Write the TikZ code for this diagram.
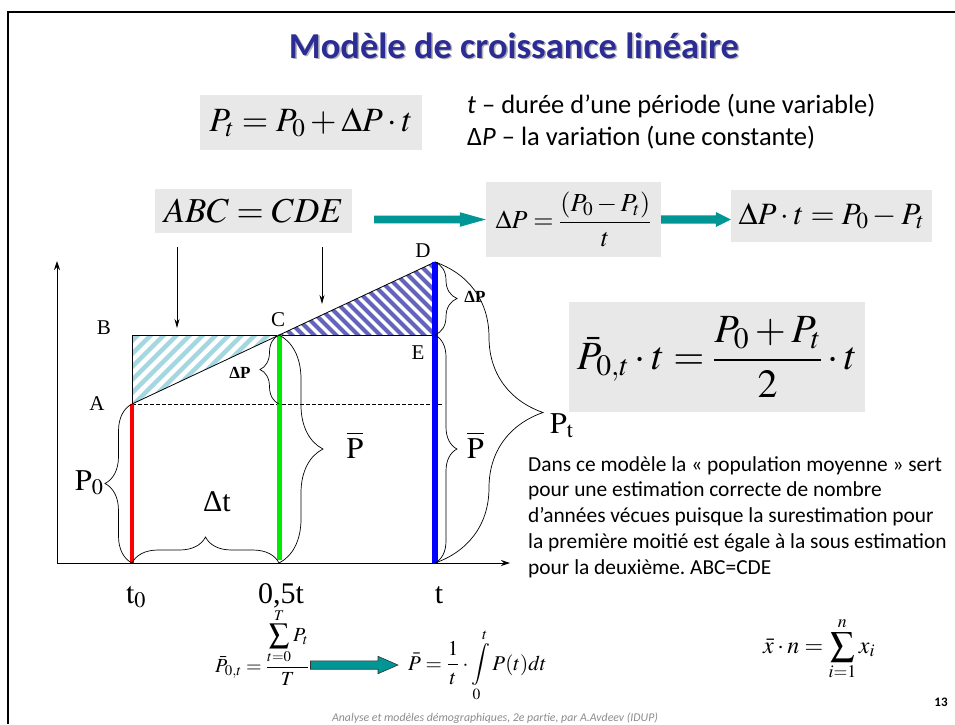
\documentclass[tikz,border=0pt]{standalone}
\usepackage{mathptmx}
\usepackage{fontspec}
\setmainfont{Liberation Serif}
\newfontfamily\calib{Carlito}
\usetikzlibrary{arrows.meta,decorations.pathreplacing,calc}
\definecolor{titleblue}{RGB}{44,44,150}
\definecolor{boxgray}{RGB}{232,232,232}
\definecolor{tealarr}{RGB}{0,150,150}
\definecolor{hatchlight}{RGB}{165,215,225}
\definecolor{hatchdark}{RGB}{100,100,190}
\definecolor{pgreen}{RGB}{0,235,0}
\newcommand\fsz[1]{\fontsize{#1}{#1}\selectfont}
% fat horizontal arrow: style, start, end, half shaft, half head, head length
\newcommand\fatarrow[6]{%
  \path[#1] ($(#2)+(0,-#4)$) -- ($(#3)+(-#6,-#4)$) -- ($(#3)+(-#6,-#5)$) -- (#3)
    -- ($(#3)+(-#6,#5)$) -- ($(#3)+(-#6,#4)$) -- ($(#2)+(0,#4)$) -- cycle;}
\frenchspacing
\begin{document}
\begin{tikzpicture}[x=1pt,y=-1pt,
  every node/.style={inner sep=0pt},
  fbox/.style={fill=boxgray, inner sep=0pt},
  ptlbl/.style={font=\fsz{21}},
  biglbl/.style={font=\fsz{30}},
  dplbl/.style={font=\fsz{17}\bfseries},
  brc/.style={decorate, decoration={brace, amplitude=#1}, line width=0.7pt, draw=black},
  outline/.style={line width=0.8pt, black},
  pinarrow/.style={line width=0.8pt, -{Stealth[length=9pt,width=5pt]}},
  axisarrow/.style={line width=0.9pt, -{Stealth[length=9pt,width=6pt]}},
  hatchA/.style={draw=hatchlight, line width=4.5pt},
  hatchB/.style={draw=hatchdark, line width=4pt},
]
\useasboundingbox[fill=white] (0,0) rectangle (955,724);

% slide frame
\draw[line width=2pt] (8,724) -- (8,12) -- (955,12);

% title
\node[anchor=base, font=\calib\bfseries\fsz{36.5}, text=black!30] (titleshadow) at (515.5,59.5) {Modèle de croissance linéaire};
\node[anchor=base, font=\calib\bfseries\fsz{36.5}, text=titleblue] (title) at (514,58) {Modèle de croissance linéaire};

% first formula and definitions
\node[fbox, minimum width=222pt, minimum height=55pt, font=\fsz{34}] (f1) at (311,122.5) {$P_t = P_0 + \Delta P\cdot t$};
\node[anchor=base west, font=\calib\fsz{26.5}] (def1) at (467,113) {\textit{t} – durée d’une période (une variable)};
\node[anchor=base west, font=\calib\fsz{26.5}] (def2) at (467,145) {Δ\textit{P} – la variation (une constante)};

% row of boxes
\node[fbox, minimum width=197pt, minimum height=44pt, font=\fsz{35}] (abc) at (253.5,211) {$ABC = CDE$};
\node[fbox, minimum width=175pt, minimum height=75pt, font=\fsz{26}] (dp) at (573.5,219.5) {$\displaystyle \Delta P = \frac{(P_0 - P_t)}{t}$};
\node[fbox, minimum width=201pt, minimum height=52pt, font=\fsz{31}] (dpt) at (831.5,216) {$\Delta P\cdot t = P_0 - P_t$};

\coordinate (a1s) at ([xshift=22pt]abc.east |- dp.west);
\fatarrow{fill=tealarr}{a1s}{dp.west}{3.8}{7.3}{26}
\coordinate (a2s) at (dp.east);
\coordinate (a2e) at (dpt.west |- a2s);
\fatarrow{fill=tealarr}{a2s}{a2e}{4.2}{7.5}{15}

% mean formula box
\node[fbox, minimum width=296pt, minimum height=110pt, font=\fsz{40}] (pbar) at (717,357) {$\displaystyle \bar{P}_{0,t}\cdot t = \frac{P_0 + P_t}{2}\cdot t$};

% graph points
\coordinate (O) at (57,563);
\coordinate (Ytop) at (57,261);
\coordinate (Xend) at (510,563);
\coordinate (A) at (132,404);
\coordinate (B) at (132,335);
\coordinate (C) at (279,335);
\coordinate (D) at (435,262);
\coordinate (E) at (435,335);
\coordinate (T0) at (132,563);
\coordinate (TH) at (279,563);
\coordinate (THb) at (279,560);
\coordinate (T) at (435,563);
\coordinate (Aend) at (443,404);
\coordinate (Amid) at (279,404);

% hatching
\begin{scope}
  \clip (A) -- (B) -- (C) -- cycle;
  \foreach \k in {0,...,13} \draw[hatchA] (40+\k*13,420) -- ++(130,-130);
\end{scope}
\begin{scope}
  \clip (C) -- (D) -- (E) -- cycle;
  \foreach \k in {0,...,22} \draw[hatchB] (185+\k*11,250) -- ++(100,100);
\end{scope}

% outlines
\draw[outline] (A) -- (B) -- (E);
\draw[outline] (A) -- (D);
\draw[line width=0.7pt, dash pattern=on 3.5pt off 2.5pt] (A) -- (Aend);

% axes
\draw[axisarrow] (O) -- (Ytop);
\draw[axisarrow] (O) -- (Xend);

% coloured verticals
\draw[red, line width=4pt] (T0) -- (A);
\draw[pgreen, line width=5pt] (THb) -- (C);
\draw[blue, line width=5.5pt] (T) -- (D);

% braces
\draw[brc=27pt] (T0) -- (A);
\draw[brc=26pt] (T0) -- (TH);
\draw[brc=19pt] (Amid) -- (C);
\draw[brc=44pt] (C) -- (TH);
\draw[brc=22pt] (D) -- (E);
\draw[brc=22pt] (E) -- (T);
\draw[brc=108pt] (D) -- (T);

% pointer arrows
\coordinate (p1s) at (177,247);
\coordinate (p1e) at (177,328);
\coordinate (p2s) at (322,247);
\coordinate (p2e) at (322,304);
\draw[pinarrow] (p1s) -- (p1e);
\draw[pinarrow] (p2s) -- (p2e);

% point labels
\node[ptlbl, anchor=base] (lA) at (97,410) {A};
\node[ptlbl, anchor=base] (lB) at (104,334) {B};
\node[ptlbl, anchor=base] (lC) at (278,326) {C};
\node[ptlbl, anchor=base] (lD) at (423,257) {D};
\node[ptlbl, anchor=base] (lE) at (418,359) {E};

% quantity labels
\node[biglbl, anchor=base west] (lP0) at (75,490) {$\mathrm{P}_0$};
\node[biglbl, anchor=base] (ldt) at (217,511) {Δt};
\node[biglbl, anchor=base] (lpb1) at (355,458) {$\overline{\mathrm{P}}$};
\node[biglbl, anchor=base] (lpb2) at (475.5,458) {$\overline{\mathrm{P}}$};
\node[dplbl, anchor=base] (ldp1) at (240,378) {ΔP};
\node[dplbl, anchor=base] (ldp2) at (475,302) {ΔP};
\node[biglbl, anchor=base] (lt0) at (136,603) {$\mathrm{t}_0$};
\node[biglbl, anchor=base] (l05) at (281,603) {0,5t};
\node[biglbl, anchor=base] (lt) at (439,603) {t};
\node[biglbl, anchor=base west] (lPt) at (550,433) {$\mathrm{P}_\mathrm{t}$};

% paragraph
\node[anchor=north west, align=left, font=\calib\fontsize{21.4}{25.8}\selectfont\frenchspacing] (para) at (528,456) {Dans ce modèle la «~population moyenne~» sert\\pour une estimation correcte de nombre\\d’années vécues puisque la surestimation pour\\la première moitié est égale à la sous estimation\\pour la deuxième. ABC=CDE};

% bottom formulas
\node[anchor=base west, font=\fsz{20}] (sumf) at (215,672) {$\displaystyle \bar{P}_{0,t} = \frac{\displaystyle\sum_{t=0}^{T} P_t}{T}$};
\node[anchor=base west, font=\fsz{21}] (intf) at (408,670) {$\displaystyle \bar{P} = \frac{1}{t}\cdot\int\limits_0^t P(t)dt$};
\coordinate (b1s) at ($(sumf.base east)+(1,-7)$);
\coordinate (b1e) at ($(intf.base west |- b1s)+(-10,0)$);
\fatarrow{fill=tealarr, draw=black!80, line width=0.6pt}{b1s}{b1e}{4.2}{8.7}{20}

\node[anchor=base west, font=\fsz{24}] (xbar) at (763,653) {$\displaystyle \bar{x}\cdot n = \sum_{i=1}^{n} x_i$};

% footer
\node[anchor=base, font=\calib\itshape\fsz{11.8}, text=black!45] (foot) at (495,721) {Analyse et modèles démographiques, 2e partie, par A.Avdeev (IDUP)};
\node[anchor=base, font=\calib\bfseries\fsz{13}] (pnum) at (941,706) {13};
\end{tikzpicture}
\end{document}
